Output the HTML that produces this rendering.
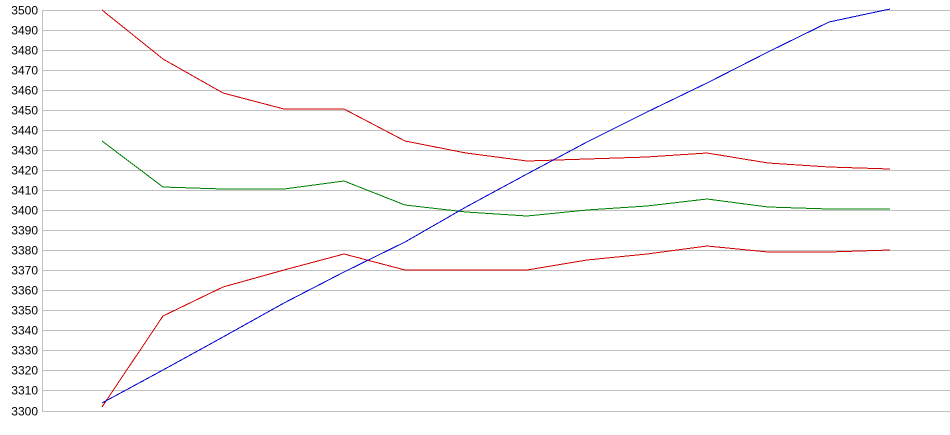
<!DOCTYPE html>
<html><head><style>
html,body{margin:0;padding:0;background:#fff;}
svg{display:block;}
text{font-family:"Liberation Sans",Arial,sans-serif;font-size:12px;fill:#000;}
</style></head><body>
<svg width="950" height="435" viewBox="0 0 950 435" xmlns="http://www.w3.org/2000/svg">
<g stroke="#c0c0c0" stroke-width="1" shape-rendering="crispEdges">
<line x1="42" y1="10.5" x2="950" y2="10.5"/>
<line x1="42" y1="30.5" x2="950" y2="30.5"/>
<line x1="42" y1="50.5" x2="950" y2="50.5"/>
<line x1="42" y1="70.5" x2="950" y2="70.5"/>
<line x1="42" y1="90.5" x2="950" y2="90.5"/>
<line x1="42" y1="110.5" x2="950" y2="110.5"/>
<line x1="42" y1="130.5" x2="950" y2="130.5"/>
<line x1="42" y1="150.5" x2="950" y2="150.5"/>
<line x1="42" y1="170.5" x2="950" y2="170.5"/>
<line x1="42" y1="190.5" x2="950" y2="190.5"/>
<line x1="42" y1="210.5" x2="950" y2="210.5"/>
<line x1="42" y1="230.5" x2="950" y2="230.5"/>
<line x1="42" y1="250.5" x2="950" y2="250.5"/>
<line x1="42" y1="270.5" x2="950" y2="270.5"/>
<line x1="42" y1="290.5" x2="950" y2="290.5"/>
<line x1="42" y1="310.5" x2="950" y2="310.5"/>
<line x1="42" y1="330.5" x2="950" y2="330.5"/>
<line x1="42" y1="350.5" x2="950" y2="350.5"/>
<line x1="42" y1="370.5" x2="950" y2="370.5"/>
<line x1="42" y1="390.5" x2="950" y2="390.5"/>
<line x1="42" y1="411.5" x2="950" y2="411.5"/>
<line x1="42.5" y1="10" x2="42.5" y2="412"/>
</g>
<g text-anchor="end">
<text x="38" y="14.5">3500</text><text x="38" y="34.5">3490</text><text x="38" y="54.5">3480</text>
<text x="38" y="74.5">3470</text><text x="38" y="94.5">3460</text><text x="38" y="114.5">3450</text>
<text x="38" y="134.5">3440</text><text x="38" y="154.5">3430</text><text x="38" y="174.5">3420</text>
<text x="38" y="194.5">3410</text><text x="38" y="214.5">3400</text><text x="38" y="234.5">3390</text>
<text x="38" y="254.5">3380</text><text x="38" y="274.5">3370</text><text x="38" y="294.5">3360</text>
<text x="38" y="314.5">3350</text><text x="38" y="334.5">3340</text><text x="38" y="354.5">3330</text>
<text x="38" y="374.5">3320</text><text x="38" y="394.5">3310</text><text x="38" y="415.5">3300</text>
</g>
<g fill="none" stroke-width="1" shape-rendering="crispEdges">
<polyline stroke="#d00000" points="102,10 163,59 223,93 284,109 344,109 405,141 466,153 527,161 587,159 647,157 707,153 768,163 829,167 890,169"/>
<polyline stroke="#008000" points="102,141 163,187 223,189 284,189 344,181 405,205 466,212 527,216 587,210 647,206 707,199 768,207 829,209 890,209"/>
<polyline stroke="#d00000" points="102,407 163,316 223,287 284,270 344,254 405,270 466,270 527,270 587,260 647,254 707,246 768,252 829,252 890,250"/>
<polyline stroke="#0000d0" points="102,403 163,370 223,337 284,303 344,272 405,242 466,207 527,174 587,142 647,112 707,83 768,52 829,22 890,9"/>
</g>
</svg>
</body></html>
